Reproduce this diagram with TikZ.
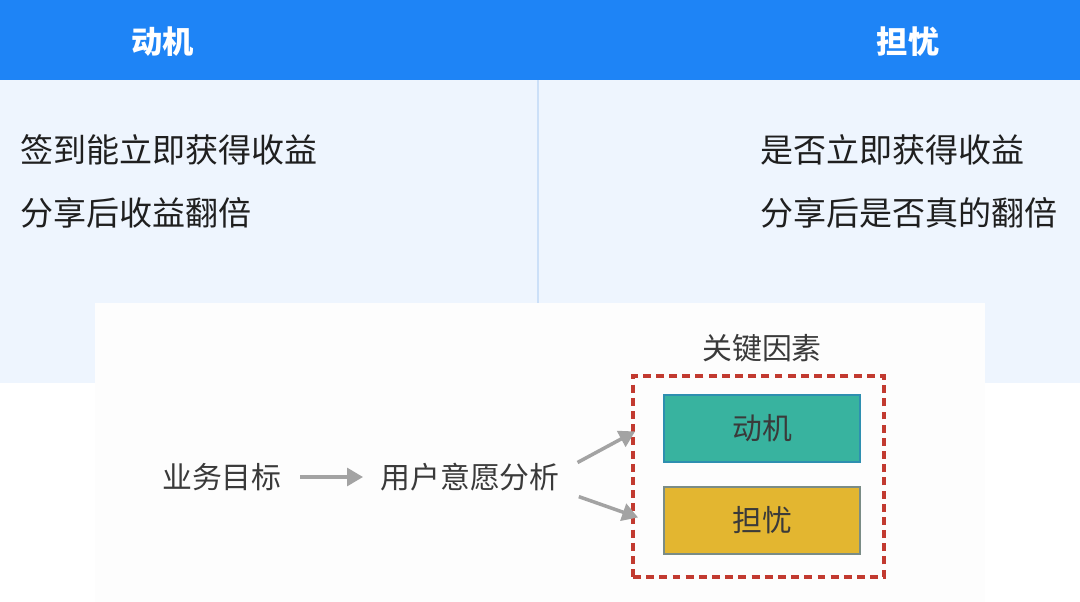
\documentclass[tikz,border=0pt]{standalone}
\usepackage{fontspec}
\setmainfont{Noto Sans CJK SC}
\usetikzlibrary{arrows.meta,calc}

\definecolor{hdrblue}{HTML}{1E84F6}
\definecolor{panelblue}{HTML}{EEF5FE}
\definecolor{divblue}{HTML}{CCE0F8}
\definecolor{cardwhite}{HTML}{FDFDFD}
\definecolor{txtdark}{HTML}{1F1F1F}
\definecolor{txtgrey}{HTML}{3A3A3A}
\definecolor{arrowgrey}{HTML}{A3A3A3}
\definecolor{dashred}{HTML}{C23A30}
\definecolor{tealfill}{HTML}{38B39F}
\definecolor{tealline}{HTML}{2E8FB0}
\definecolor{goldfill}{HTML}{E3B630}
\definecolor{goldline}{HTML}{7A8C86}

\begin{document}
\begin{tikzpicture}[x=0.02cm,y=-0.02cm,
		hdrtext/.style={inner sep=0pt,text=white,font=\fontsize{17.8}{20}\selectfont\bfseries},
		bodytext/.style={anchor=west,inner sep=0pt,text=txtdark,font=\fontsize{18.8}{21}\selectfont},
		flowtext/.style={inner sep=0pt,text=txtgrey,font=\fontsize{17}{20}\selectfont},
		factor/.style={draw=#1,line width=0.7pt,minimum width=3.92cm,minimum height=1.34cm,
			text=txtgrey,font=\fontsize{17}{20}\selectfont},
		flowarrow/.style={draw=arrowgrey,line width=2pt,-{Triangle[length=9pt,width=10pt]}}]
	\useasboundingbox (0,0) rectangle (1080,602);

	% backgrounds
	\fill[white] (0,0) rectangle (1080,602);
	\fill[panelblue] (0,80) rectangle (1080,383);
	\fill[hdrblue] (0,0) rectangle (1080,80);
	\draw[divblue,line width=1.5pt] (538,80) -- (538,303);
	\fill[cardwhite] (95,303) rectangle (985,602);

	% header
	\node[hdrtext] (hmotiv) at (163,42) {动机};
	\node[hdrtext] (hworry) at (908,42) {担忧};

	% table rows
	\node[bodytext] (mrow1) at (20,150) {签到能立即获得收益};
	\node[bodytext] (mrow2) at (20,213) {分享后收益翻倍};
	\node[bodytext] (wrow1) at (760,150) {是否立即获得收益};
	\node[bodytext] (wrow2) at (760,213) {分享后是否真的翻倍};

	% flow
	\node[flowtext] (goal) at (222,477) {业务目标};
	\node[flowtext] (intent) at (470,477) {用户意愿分析};
	\node[flowtext] (keytitle) at (762,348) {关键因素};
	\node[draw=dashred,line width=2.2pt,dash pattern=on 4.5pt off 3pt,
		minimum width=5.02cm,minimum height=4.02cm] (keyf) at (758.5,476.5) {};
	\node[factor=tealline,fill=tealfill] (motiv) at (762,428.5) {动机};
	\node[factor=goldline,fill=goldfill] (worry) at (762,520.5) {担忧};

	\draw[flowarrow,shorten <=0.36cm,shorten >=0.34cm] (goal.east) -- (intent.west);
	\draw[flowarrow,shorten <=0.4cm] ([yshift=0.1cm]intent.east)
		-- ($(keyf.north west)!0.28!(keyf.south west)+(4,0)$);
	\draw[flowarrow,shorten <=0.4cm] ([yshift=-0.26cm]intent.east)
		-- ($(keyf.north west)!0.70!(keyf.south west)+(7,0)$);
\end{tikzpicture}
\end{document}
